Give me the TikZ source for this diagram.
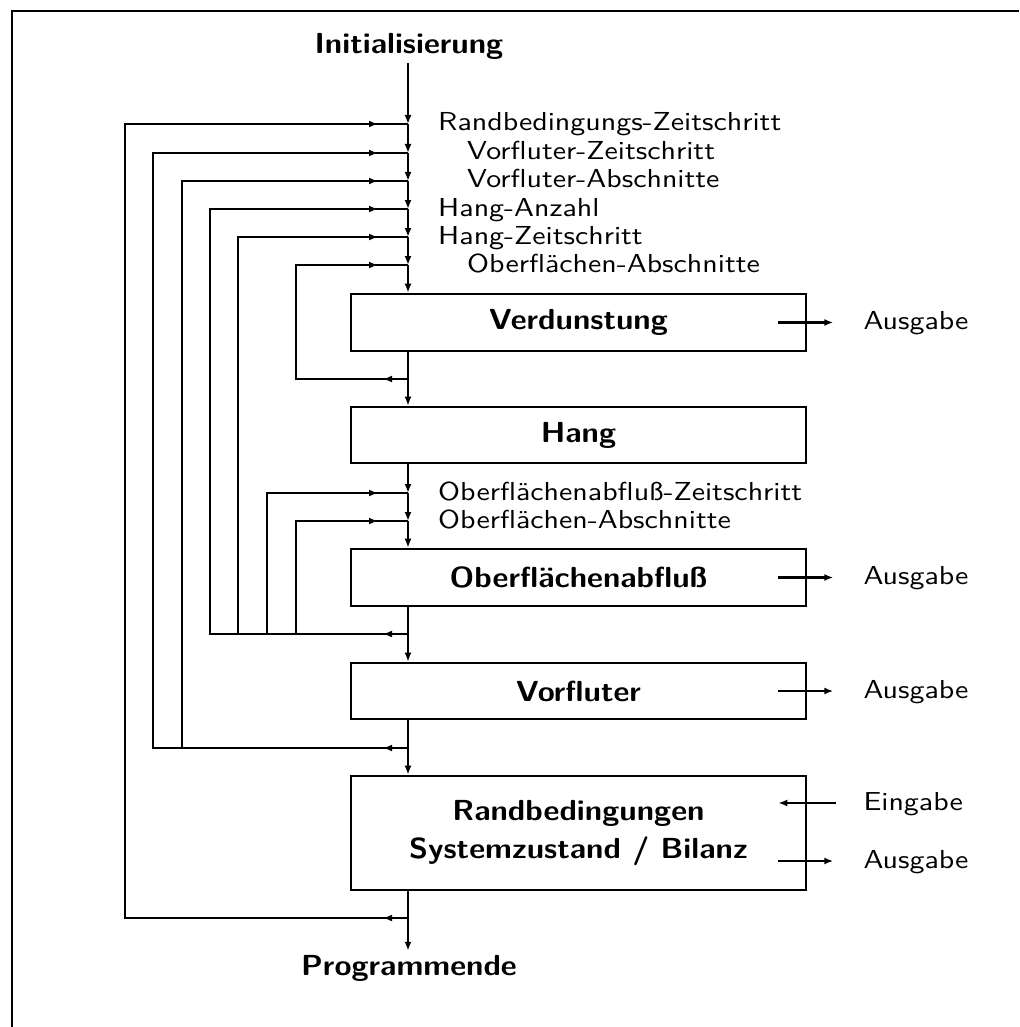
\documentclass[tikz,border=0pt]{standalone}
\usepackage{fontspec}
\setsansfont{lmsans10-regular.otf}[FakeStretch=1.15]
\newfontfamily\headfont{lmsans10-bold.otf}[FakeStretch=1.07]
\usetikzlibrary{arrows.meta,calc,decorations.markings}

\begin{document}
\begin{tikzpicture}[x=1pt,y=-1pt,>={Latex[length=9pt,width=7pt]},line width=2.4pt,
  font=\sffamily\fontsize{26}{30}\selectfont,
  box/.style={draw,line width=2.6pt,minimum width=455pt,minimum height=57pt,inner sep=0pt,align=center,font=\headfont\fontsize{29}{38}\selectfont},
  term/.style={inner sep=3pt,font=\headfont\fontsize{29}{38}\selectfont},
  lab/.style={anchor=base west,inner sep=0pt,yshift=-7pt},
  feed/.style={postaction={decorate,decoration={markings,mark=at position -30pt with {\arrow{>}}}}},
  loopline/.style={postaction={decorate,decoration={markings,mark=at position 25pt with {\arrow{>}},mark=at position -30pt with {\arrow{>}}}}}]
  \useasboundingbox (0,0) rectangle (1019,1027);
  \draw[line width=2.8pt] (12,1027) -- (12,11) -- (1019,11);
  % main chain
  \node[term] (init) at (409,46) {Initialisierung};
  \coordinate (j1) at (408,124);
  \coordinate (j2) at (408,153);
  \coordinate (j3) at (408,181);
  \coordinate (j4) at (408,209);
  \coordinate (j5) at (408,237);
  \coordinate (j6) at (408,265);
  \node[box] (verd) at (578.5,322.5) {Verdunstung};
  \coordinate (r1) at (408,379);
  \node[box,minimum height=56pt] (hang) at (578.5,435) {Hang};
  \coordinate (k1) at (408,493);
  \coordinate (k2) at (408,521);
  \node[box] (obab) at (578.5,577.5) {Oberflächenabfluß};
  \coordinate (r2) at (408,634);
  \node[box,minimum height=56pt] (vorf) at (578.5,691) {Vorfluter};
  \coordinate (r3) at (408,748);
  \node[box,minimum height=114pt] (rand) at (578.5,833) {Randbedingungen\\Systemzustand / Bilanz};
  \coordinate (r4) at (408,918);
  \node[term] (ende) at (409,968) {Programmende};
  % columns of the loops
  \coordinate (c1) at (125,0);
  \coordinate (c2) at (153,0);
  \coordinate (c3) at (182,0);
  \coordinate (c4) at (210,0);
  \coordinate (c5) at (238,0);
  \coordinate (c6) at (267,0);
  \coordinate (c7) at (296,0);
  \draw[->] (j1 |- init.south) -- (j1);
  \foreach \a/\b in {j1/j2,j2/j3,j3/j4,j4/j5,j5/j6,k1/k2} \draw[->] (\a) -- (\b);
  \draw[->] (j6) -- (j6 |- verd.north);
  \draw (j6 |- verd.south) -- (r1);
  \draw[->] (r1) -- (r1 |- hang.north);
  \draw[->] (r1 |- hang.south) -- (k1);
  \draw[->] (k2) -- (k2 |- obab.north);
  \draw (k2 |- obab.south) -- (r2);
  \draw[->] (r2) -- (r2 |- vorf.north);
  \draw (r2 |- vorf.south) -- (r3);
  \draw[->] (r3) -- (r3 |- rand.north);
  \draw (r3 |- rand.south) -- (r4);
  \draw[->] (r4) -- (r4 |- ende.north);
  % loops back to the chain
  \draw[loopline] (r4) -- (r4 -| c1) -- (j1 -| c1) -- (j1);
  \draw[loopline] (r3) -- (r3 -| c2) -- (j2 -| c2) -- (j2);
  \draw[feed] (r3 -| c3) -- (j3 -| c3) -- (j3);
  \draw[loopline] (r2) -- (r2 -| c4) -- (j4 -| c4) -- (j4);
  \draw[feed] (r2 -| c5) -- (j5 -| c5) -- (j5);
  \draw[loopline] (r1) -- (r1 -| c7) -- (j6 -| c7) -- (j6);
  \draw[feed] (r2 -| c6) -- (k1 -| c6) -- (k1);
  \draw[feed] (r2 -| c7) -- (k2 -| c7) -- (k2);
  % labels of the loops
  \node[lab] (l1) at ($(j1)+(29,0)$) {Randbedingungs-Zeitschritt};
  \node[lab] (l2) at ($(j2)+(58,0)$) {Vorfluter-Zeitschritt};
  \node[lab] (l3) at ($(j3)+(58,0)$) {Vorfluter-Abschnitte};
  \node[lab] (l4) at ($(j4)+(29,0)$) {Hang-Anzahl};
  \node[lab] (l5) at ($(j5)+(29,0)$) {Hang-Zeitschritt};
  \node[lab] (l6) at ($(j6)+(58,0)$) {Oberflächen-Abschnitte};
  \node[lab] (l7) at ($(k1)+(29,0)$) {Oberflächenabfluß-Zeitschritt};
  \node[lab] (l8) at ($(k2)+(29,0)$) {Oberflächen-Abschnitte};
  % in- and output
  \node[lab] (a1) at ($(verd.east)+(55,0)$) {Ausgabe};
  \node[lab] (a2) at ($(obab.east)+(55,0)$) {Ausgabe};
  \node[lab] (a3) at ($(vorf.east)+(55,0)$) {Ausgabe};
  \node[lab] (e4) at ($(rand.east)+(55,-30)$) {Eingabe};
  \node[lab] (a4) at ($(rand.east)+(55,28)$) {Ausgabe};
  \draw[->] ($(verd.east)+(-29,0)$) -- ($(verd.east)+(26,0)$);
  \draw[->] ($(obab.east)+(-29,0)$) -- ($(obab.east)+(26,0)$);
  \draw[->] ($(vorf.east)+(-29,0)$) -- ($(vorf.east)+(26,0)$);
  \draw[->] ($(rand.east)+(29,-30)$) -- ($(rand.east)+(-29,-30)$);
  \draw[->] ($(rand.east)+(-29,28)$) -- ($(rand.east)+(26,28)$);
\end{tikzpicture}
\end{document}
